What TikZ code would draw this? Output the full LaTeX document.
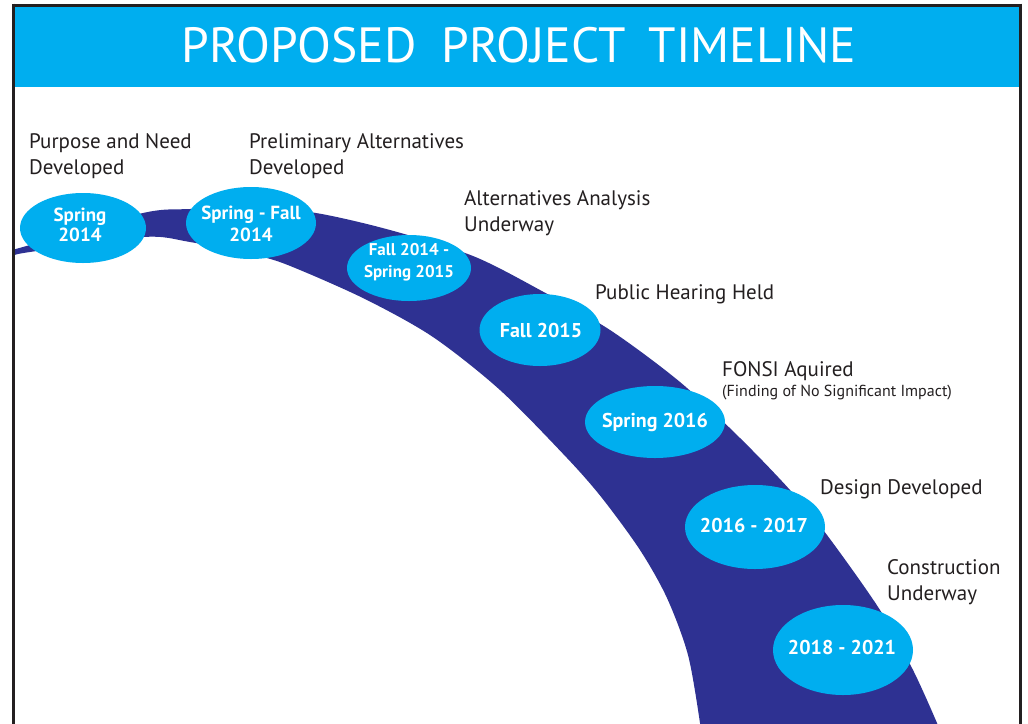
\documentclass[tikz,border=0pt]{standalone}
\usepackage{fontspec}
\setmainfont{PT Sans}
\usetikzlibrary{shapes.geometric}
\definecolor{cyanbar}{HTML}{00AEEF}
\definecolor{bandblue}{HTML}{2E3192}
\definecolor{ink}{HTML}{231F20}
\begin{document}
\begin{tikzpicture}[x=1pt,y=-1pt,
  oval/.style={ellipse, fill=cyanbar, inner sep=0pt},
  ovaltext/.style={anchor=base, inner sep=0pt, text=white, align=center},
  lbl/.style={anchor=base west, inner sep=0pt, text=ink, align=left, font=\fontsize{21}{26}\selectfont},
  titletext/.style={text=white, inner sep=0pt, font=\fontsize{49.5}{50}\selectfont}]
\useasboundingbox (0,0) rectangle (1028,723);
\fill[white] (0,0) rectangle (1028,723);
\fill[cyanbar] (13,5) rectangle (1020,87);
\node[titletext] (title) at (519,45) {PROPOSED\hspace{12pt} PROJECT\hspace{10pt} TIMELINE};
\begin{scope}
\clip (13,87) rectangle (1020,730);
\fill[bandblue] plot[smooth] coordinates {(0,253) (12,250) (30,245) (143,213) (190,209) (250,207) (316,213) (390,230) (473,256) (540,290) (610,330) (680,382) (740,438) (790,490) (827,535) (880,610) (913,670) (937,723) (943,740)}
  -- plot[smooth] coordinates {(701,740) (700,723) (688,655) (667,598) (640,550) (602,498) (567,458) (500,390) (433,337) (367,300) (300,270) (263,257) (190,242) (143,237) (30,252) (12,256) (0,259)} -- cycle;
\end{scope}
\draw[ink, line width=3pt] (13,5) -- (1020,5);
\draw[ink, line width=3pt] (13,3.5) -- (13,730);
\draw[ink, line width=3pt] (1020,3.5) -- (1020,730);
% ovals
\node[oval, minimum width=126, minimum height=70] (e1) at (83,228) {};
\node[oval, minimum width=130, minimum height=72] (e2) at (251,223) {};
\node[oval, minimum width=124, minimum height=66] (e3) at (409,268) {};
\node[oval, minimum width=121, minimum height=72] (e4) at (540,330) {};
\node[oval, minimum width=140, minimum height=72] (e5) at (655,422) {};
\node[oval, minimum width=140, minimum height=84] (e6) at (755,527) {};
\node[oval, minimum width=140, minimum height=90] (e7) at (843,650) {};
\node[ovaltext, font=\bfseries\fontsize{19}{20}\selectfont] (t1) at (80,241) {Spring\\2014};
\node[ovaltext, font=\bfseries\fontsize{19}{22}\selectfont] (t2) at (251,241) {Spring - Fall\\2014};
\node[ovaltext, font=\bfseries\fontsize{17}{22}\selectfont] (t3) at (409,277) {Fall 2014 -\\Spring 2015};
\node[ovaltext, font=\bfseries\fontsize{20}{22}\selectfont] (t4) at (541,337) {Fall 2015};
\node[ovaltext, font=\bfseries\fontsize{20}{22}\selectfont] (t5) at (655,427) {Spring 2016};
\node[ovaltext, font=\bfseries\fontsize{20}{22}\selectfont] (t6) at (754,532) {2016 - 2017};
\node[ovaltext, font=\bfseries\fontsize{20}{22}\selectfont] (t7) at (842,654) {2018 - 2021};
% labels
\node[lbl] (l1) at (29,174) {Purpose and Need\\Developed};
\node[lbl] (l2) at (249,174) {Preliminary Alternatives\\Developed};
\node[lbl] (l3) at (464,231) {Alternatives Analysis\\Underway};
\node[lbl] (l4) at (595,299) {Public Hearing Held};
\node[lbl] (l5) at (722,376) {FONSI Aquired};
\node[lbl, font=\fontsize{16}{18}\selectfont] (l5b) at (722,396) {(Finding of No Significant Impact)};
\node[lbl] (l6) at (820,494) {Design Developed};
\node[lbl] (l7) at (887,600) {Construction\\Underway};
\end{tikzpicture}
\end{document}
